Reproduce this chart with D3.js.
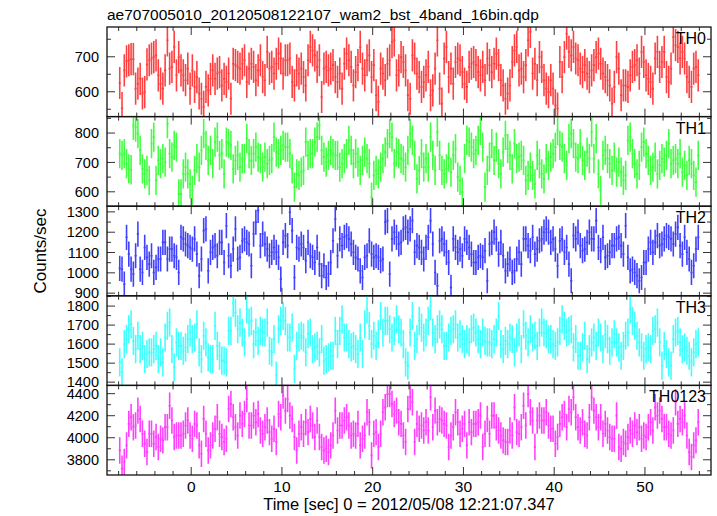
<!DOCTYPE html>
<html><head><meta charset="utf-8">
<script src="https://cdn.jsdelivr.net/npm/d3@7"></script>
<style>body{margin:0;background:#fff} text{font-family:"Liberation Sans",Arial,sans-serif;fill:#000}</style>
</head><body><svg id="c" width="717" height="516"></svg>
<script>
const title = "ae707005010_20120508122107_wam2_bst_4band_16bin.qdp";
const xLabel = "Time [sec] 0 = 2012/05/08 12:21:07.347";
const yLabel = "Counts/sec";
const timeStart = -7.875, binSize = 0.25;
const xDomain = [-9.28, 57.28];
const xTicks = [0, 10, 20, 30, 40, 50];
const bands = ["TH0", "TH1", "TH2", "TH3", "TH0123"];
const colors = ["#ff0000", "#00ff00", "#0000ff", "#00ffff", "#ff00ff"];
const yDomains = [[529, 785], [551, 856], [887, 1328], [1383, 1854], [3662, 4475]];
const yTickValues = [[600, 700], [600, 700, 800], [900, 1000, 1100, 1200, 1300], [1400, 1500, 1600, 1700, 1800], [3800, 4000, 4200, 4400]];
const yMinorStep = [50, 50, 50, 50, 100];
const errHalf = [46, 50, 62, 74, 120];

const th0 = [625,553,661,687,690,693,693,609,623,637,
595,599,678,690,695,699,704,647,623,
609,661,747,666,671,728,647,699,661,647,
633,666,609,661,614,642,595,580,557,614,
604,637,661,637,652,656,618,637,628,652,
580,680,676,671,666,680,690,628,666,
680,671,633,661,690,642,633,714,666,671,
652,680,709,695,652,690,690,695,628,618,
661,652,666,642,618,690,728,718,704,671,
690,585,666,671,661,666,676,642,628,652,
609,680,709,690,671,618,656,676,728,666,
647,690,704,642,676,590,571,666,652,
633,680,690,742,747,647,661,699,685,661,
590,580,704,
695,652,642,614,628,647,671,590,604,666,
747,609,566,695,728,642,666,623,685,695,
690,656,623,614,671,680,685,676,656,
647,671,633,695,676,656,680,709,676,633,
618,580,595,618,685,718,728,661,666,642,
676,747,771,652,680,633,699,671,633,
609,599,633,609,561,552,685,642,699,766,
714,704,728,695,690,666,656,676,652,642,
661,676,699,709,680,652,642,633,618,566,
614,699,666,590,618,618,614,647,671,676,
690,652,714,685,647,637,628,609,695,714,
671,685,714,642,628,666,756,733,728,
695,714,695,642,628,614,666,671,647];

const th1 = [730,724,730,696,678,675,826,820,798,741,
678,661,673,639,764,786,639,707,696,
713,701,832,730,718,758,752,593,593,661,
684,661,627,605,673,713,684,741,798,758,
707,741,696,769,786,724,730,661,769,764,
758,678,707,724,684,713,713,781,730,
707,730,752,718,713,684,718,696,707,713,
786,735,730,741,758,752,752,730,678,616,
661,656,667,673,769,724,730,730,769,786,
826,741,718,701,724,741,730,724,724,684,
696,713,730,775,741,696,730,701,673,707,
735,713,696,582,656,673,661,684,713,
735,764,798,786,696,735,730,713,707,684,
741,798,775,
724,644,673,730,684,713,684,786,724,673,
803,724,673,661,678,718,667,724,747,
650,639,599,713,775,769,752,730,741,775,
809,752,616,673,718,764,707,752,696,661,
735,792,747,724,678,764,713,718,724,707,
639,656,684,656,627,724,696,661,644,713,
690,718,730,752,809,758,752,713,690,781,
798,764,718,713,764,707,690,735,713,
803,713,781,661,605,724,741,713,696,673,
718,667,701,667,639,656,775,786,730,696,
661,690,752,769,730,707,673,684,718,
661,690,713,701,724,764,696,707,713,696,
730,667,690,656,707,696,656,633,724];

const th2 = [1022,1018,944,1175,1092,1018,994,1084,1191,1018,
1002,1125,1076,1043,1084,1002,1027,1068,1068,
1150,1150,1068,1117,1117,1084,1076,1002,1175,
1167,1142,1134,1125,1117,1167,1092,986,1068,
1208,1216,1010,1101,1125,1134,1084,1150,1150,1051,
1232,1084,1035,1117,1216,1068,1076,1158,1167,
1150,1142,1035,1191,1249,1307,1134,1191,1142,
1117,1084,1101,1125,1101,1076,969,1150,1183,
1134,1298,1208,977,1125,1117,1142,1125,1060,1150,
1084,1076,1051,1125,1043,986,1035,977,994,
1051,1158,1265,1084,1167,1134,1175,1183,1167,
1142,1101,1076,1068,1010,977,1076,1084,1158,
1092,1076,1084,1076,1060,1068,1249,1257,994,
1167,1200,1175,1142,1150,1216,1224,1200,1216,1257,
1101,1134,1125,1101,1068,1125,1175,1257,1142,1002,
936,1158,1167,1142,1101,1051,928,1167,1125,1101,
1117,1084,1167,1150,1125,1092,1051,1051,1076,
1084,1076,1109,961,1142,1150,1200,1167,1092,1150,
1084,1010,1043,1068,1002,1010,1068,1101,1043,1167,
1167,1134,1109,1175,1092,1117,1158,1167,1200,1216,
1200,1150,1167,1117,1035,1158,1167,1101,1125,1043,
961,1183,1167,1200,1134,1109,1117,1150,1200,
1167,1167,1257,1125,1109,1175,1076,1084,1101,1134,
1134,1167,1175,1134,1092,1232,1076,1010,1018,1002,
986,961,977,1051,1051,1117,1150,1101,1150,1183,
1134,1142,1167,1183,1175,1167,1142,1191,1224,
1134,1092,1175,1101,1068,1002,1035,1117,1175];

const th3 = [1504,1452,1600,1626,1678,1704,1617,1574,1644,1574,
1591,1522,1548,1557,1557,1574,1591,1522,1557,
1504,1635,1696,1713,1574,1478,1609,1591,1591,
1565,1583,1626,1661,1626,1635,1704,1557,1522,
1644,1609,1530,1522,1522,1696,1591,1539,1513,1513,
1504,1670,1670,1817,1765,1678,1713,1661,1609,
1783,1713,1722,1600,1661,1617,1670,1661,1661,
1713,1565,1557,1626,1435,1678,1722,1748,1722,
1635,1635,1687,1470,1591,1635,1644,1635,1557,1652,
1661,1574,1583,1591,1557,1626,1513,1522,1530,
1539,1539,1670,1600,1670,1730,1635,1635,1600,
1583,1591,1574,1548,1635,1548,1704,1783,1696,
1600,1644,1591,1652,1748,1661,1722,1722,1678,
1635,1670,1730,1678,1661,1600,1504,1487,1661,1748,
1591,1626,1722,1687,1635,1661,1722,1800,1661,1626,
1678,1704,1678,1591,1591,1635,1670,1678,1704,1635,
1652,1626,1600,1626,1609,1678,1687,1661,1626,
1600,1661,1617,1609,1609,1600,1626,1661,1748,1600,
1574,1617,1600,1635,1626,1557,1635,1661,1574,1704,
1644,1609,1678,1635,1644,1591,1661,1713,1661,1652,
1626,1626,1600,1591,1609,1670,1730,1696,1661,1670,
1678,1583,1626,1539,1539,1583,1644,1522,1574,
1609,1635,1591,1661,1635,1574,1652,1626,1565,1609,
1652,1609,1583,1539,1591,1644,1661,1783,1722,1696,
1644,1609,1583,1539,1574,1583,1574,1670,1678,1713,
1609,1487,1591,1548,1504,1487,1626,1661,1670,
1609,1574,1583,1565,1539,1504,1557,1600,1609];

const th0123 = [3885,3720,3780,3931,4126,4186,4096,4111,4246,4171,
4036,3946,3870,4036,4036,3946,4006,3916,3991,
3976,4096,4096,4291,4156,4006,4021,4021,4021,
4036,4111,4156,4021,3991,4126,4111,3931,3855,
4171,4036,3885,3931,4021,4081,4186,4036,4006,3961,
3991,4261,4307,4186,4096,4021,4201,4126,4216,
4352,4111,4111,4201,4141,4216,4066,4036,4096,
4156,4051,3991,4081,3961,4216,4186,4382,4246,
4352,4201,4171,4006,3885,4036,4096,4036,4141,4051,
4171,4111,4006,4156,4006,3916,3885,3900,3870,
3931,4021,4246,4066,4111,4111,4156,4186,4111,
4021,4036,4021,4126,3931,3991,4021,4231,4141,
3840,4036,4051,3916,4036,4231,4276,4397,4397,
4307,4216,4246,4141,4126,4021,3961,4261,4367,4322,
3961,4126,4081,4111,4066,4141,4066,4367,4096,4246,
4141,4171,4156,4126,4111,3916,4021,4096,4231,4141,
4036,4081,4126,3931,4141,4051,4126,4126,4141,
4201,3916,4036,4171,4036,4201,4201,4096,4066,4021,
3976,3961,3961,4066,4021,4276,4051,4036,4096,4291,
4111,4397,4231,4156,3916,4156,4201,4156,4156,4231,
4111,4081,4081,3946,4006,4126,4186,4216,4096,4261,
4231,4367,4186,4096,4066,4141,4036,4021,4186,
4367,4246,4186,4096,4186,4036,4126,4066,4006,3991,
3991,4201,3916,3900,3961,3946,4006,4066,4036,4111,
4051,4096,3991,4021,4006,4096,4141,4066,4276,4201,
4246,4171,4096,4096,4036,4021,4066,4322,4126,
4171,4141,4201,4021,3870,3825,3931,3976,4141];

const series = [th0, th1, th2, th3, th0123];

const svg = d3.select("#c");
const L = 107, R = 711, T = 27, B = 475;
const ph = (B - T) / bands.length;
const x = d3.scaleLinear().domain(xDomain).range([L, R]);
const fs = 15.5;

svg.append("text").attr("x", L).attr("y", 20).attr("font-size", fs).text(title);

const minorX = d3.range(-8, 57, 2);

series.forEach((vals, p) => {
  const top = T + p * ph, bot = top + ph;
  const y = d3.scaleLinear().domain(yDomains[p]).range([bot, top]);
  const g = svg.append("g");
  const cid = "clip" + p;
  svg.append("clipPath").attr("id", cid).append("rect")
    .attr("x", L).attr("y", top).attr("width", R - L).attr("height", ph);
  const dg = g.append("g").attr("clip-path", `url(#${cid})`);
  const e = errHalf[p];
  dg.selectAll("path").data(vals).join("path")
    .attr("d", (v, i) => {
      const t = timeStart + i * binSize;
      return `M${x(t - binSize / 2)},${y(v)}H${x(t + binSize / 2)}M${x(t)},${y(v - e)}V${y(v + e)}`;
    })
    .attr("fill", "none").attr("stroke", colors[p]).attr("stroke-width", 1.6)
    .attr("stroke-opacity", 0.75);

  // ticks
  const tg = g.append("g").attr("stroke", "#333").attr("stroke-width", 1);
  minorX.forEach(t => {
    const len = (t % 10 === 0) ? 8 : 4;
    tg.append("line").attr("x1", x(t)).attr("x2", x(t)).attr("y1", bot).attr("y2", bot - len);
    tg.append("line").attr("x1", x(t)).attr("x2", x(t)).attr("y1", top).attr("y2", top + len);
  });
  const st = yMinorStep[p];
  const ymin = Math.ceil(yDomains[p][0] / st) * st;
  for (let v = ymin; v <= yDomains[p][1]; v += st) {
    const major = yTickValues[p].includes(v);
    const len = major ? 8 : 4;
    tg.append("line").attr("x1", L).attr("x2", L + len).attr("y1", y(v)).attr("y2", y(v));
    tg.append("line").attr("x1", R).attr("x2", R - len).attr("y1", y(v)).attr("y2", y(v));
  }
  yTickValues[p].forEach(v => {
    g.append("text").attr("x", 99).attr("y", y(v)).attr("dy", "0.35em")
      .attr("text-anchor", "end").attr("font-size", 14.5).text(v);
  });
  g.append("rect").attr("x", L).attr("y", top).attr("width", R - L).attr("height", ph)
    .attr("fill", "none").attr("stroke", "#111").attr("stroke-width", 1.3);
  g.append("text").attr("x", 706).attr("y", top + 17).attr("text-anchor", "end")
    .attr("font-size", 16).text(bands[p]);
});

xTicks.forEach(t => {
  svg.append("text").attr("x", x(t)).attr("y", 492).attr("text-anchor", "middle")
    .attr("font-size", fs).text(t);
});
svg.append("text").attr("x", (L + R) / 2).attr("y", 510).attr("text-anchor", "middle")
  .attr("font-size", 16.5).text(xLabel);
svg.append("text").attr("transform", `translate(46,${(T + B) / 2}) rotate(-90)`)
  .attr("text-anchor", "middle").attr("font-size", 17).text(yLabel);
</script></body></html>
